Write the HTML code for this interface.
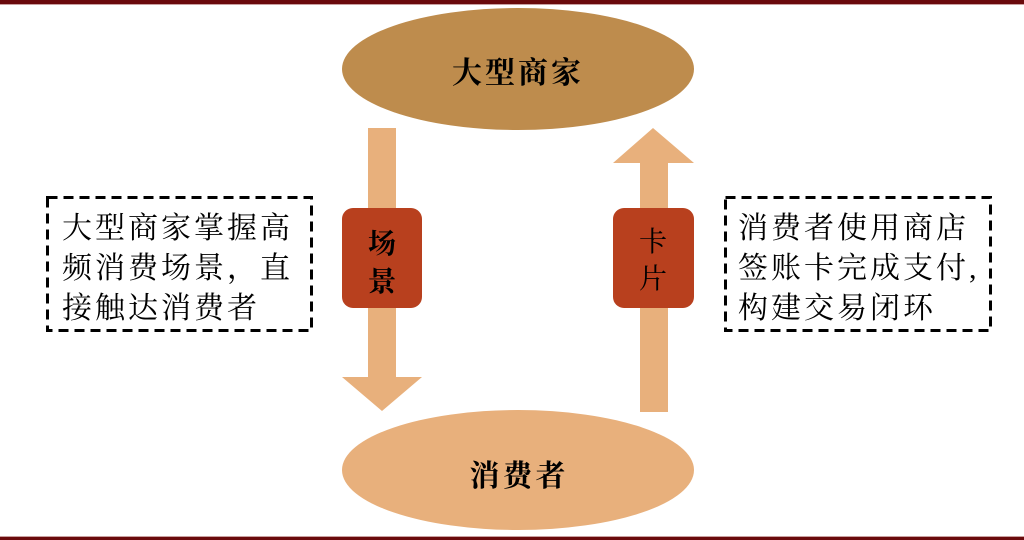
<!DOCTYPE html>
<html>
<head>
<meta charset="utf-8">
<style>
html,body{margin:0;padding:0;background:#fff;}
body{width:1024px;height:540px;overflow:hidden;}
svg{display:block;}
text{font-family:"Liberation Serif","Noto Serif CJK SC","Noto Sans CJK SC",serif;}
</style>
</head>
<body>
<svg width="1024" height="540" viewBox="0 0 1024 540" xmlns="http://www.w3.org/2000/svg">
  <!-- top/bottom bars -->
  <rect x="0" y="0" width="1024" height="4" fill="#6a0a0c"/>
  <rect x="0" y="4" width="1024" height="1" fill="#c9a0a0"/>
  <rect x="0" y="536" width="1024" height="1" fill="#c9a0a0"/>
  <rect x="0" y="537" width="1024" height="3" fill="#6a0a0c"/>

  <!-- top ellipse -->
  <ellipse cx="518" cy="69" rx="176" ry="61" fill="#be8c4d"/>
  <text x="518" y="83" font-size="30" font-weight="bold" text-anchor="middle" letter-spacing="3" fill="#000">大型商家</text>

  <!-- bottom ellipse -->
  <ellipse cx="518" cy="470" rx="176" ry="60" fill="#e8b07c"/>
  <text x="519" y="486" font-size="30" font-weight="bold" text-anchor="middle" letter-spacing="3" fill="#000">消费者</text>

  <!-- down arrow -->
  <polygon points="368,128 396,128 396,377 422,377 382,411 342,377 368,377" fill="#e8b07c"/>
  <!-- up arrow -->
  <polygon points="640,412 668,412 668,163 694,163 653,128 613,163 640,163" fill="#e8b07c"/>

  <!-- label boxes -->
  <rect x="342" y="208" width="80" height="100" rx="11" ry="11" fill="#b8401e"/>
  <text x="382" y="253" font-size="28" font-weight="bold" text-anchor="middle" fill="#000">场</text>
  <text x="382" y="291" font-size="28" font-weight="bold" text-anchor="middle" fill="#000">景</text>

  <rect x="613" y="208" width="81" height="100" rx="11" ry="11" fill="#b8401e"/>
  <text x="653" y="251" font-size="28" text-anchor="middle" fill="#000">卡</text>
  <text x="653" y="288" font-size="28" text-anchor="middle" fill="#000">片</text>

  <!-- left dashed box -->
  <rect x="47.5" y="197.5" width="264" height="133" fill="none" stroke="#000" stroke-width="3" stroke-dasharray="10,6"/>
  <text x="62" y="238" font-size="30" letter-spacing="3" fill="#000">大型商家掌握高</text>
  <text x="62" y="278" font-size="30" letter-spacing="3" fill="#000">频消费场景，直</text>
  <text x="62" y="318" font-size="30" letter-spacing="3" fill="#000">接触达消费者</text>

  <!-- right dashed box -->
  <rect x="725.5" y="197.5" width="265" height="133" fill="none" stroke="#000" stroke-width="3" stroke-dasharray="10,6"/>
  <text x="738" y="238" font-size="30" letter-spacing="3" fill="#000">消费者使用商店</text>
  <text x="738" y="278" font-size="30" letter-spacing="3" fill="#000">签账卡完成支付,</text>
  <text x="738" y="318" font-size="30" letter-spacing="3" fill="#000">构建交易闭环</text>
</svg>
</body>
</html>
